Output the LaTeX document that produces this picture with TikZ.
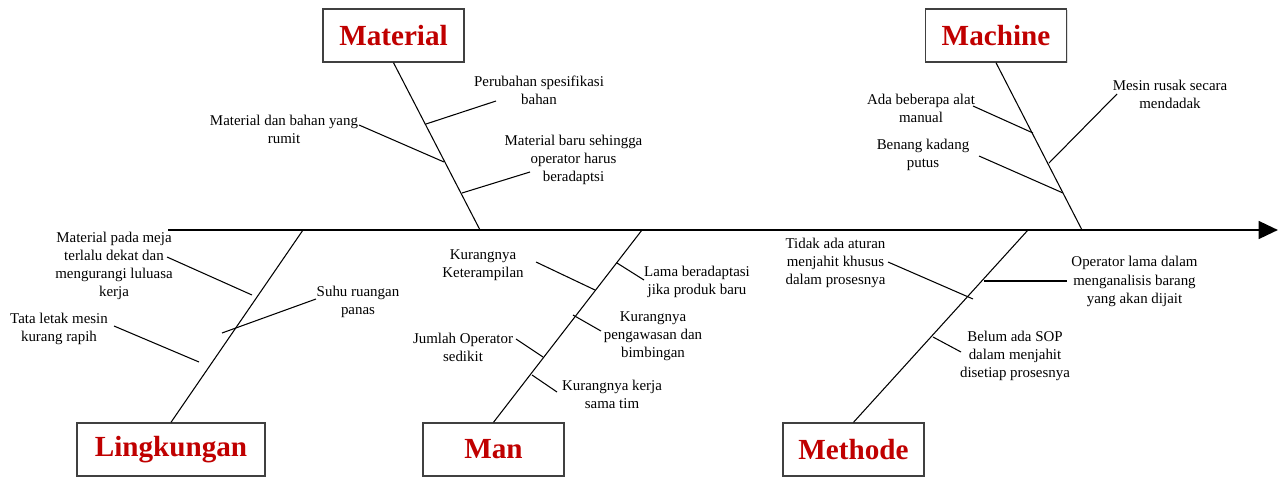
\documentclass[tikz,border=0pt]{standalone}
\usepackage{fontspec}
\setmainfont{Liberation Serif}
\usetikzlibrary{arrows.meta,shadows}
\definecolor{catred}{RGB}{192,0,0}

\begin{document}
\begin{tikzpicture}[x=0.02cm, y=-0.02cm,
    catbox/.style={draw=black!75, line width=0.8pt, fill=white, text=catred,
        font=\fontsize{16.6}{18}\selectfont\bfseries, minimum width=2.82cm,
        minimum height=1.06cm, inner sep=0pt,
        drop shadow={opacity=0.25, shadow xshift=0.6pt, shadow yshift=-0.6pt}},
    cause/.style={align=center, inner sep=0pt, font=\fontsize{8.5}{10.3}\selectfont},
    bone/.style={line width=0.6pt}]
    \useasboundingbox (0,0) rectangle (1282,477);
    % spine
    \coordinate (tail) at (168,230);
    \coordinate (head) at (1278,230);
    \draw[line width=1.6pt, -{Triangle[length=11pt,width=10pt]}] (tail) -- (head);
    % categories
    \node[catbox] (material) at (393.5,35.5) {Material};
    \node[catbox] (machine) at (996,35.5) {Machine};
    \node[catbox, minimum width=3.76cm] (lingkungan) at (171,449.5) {Lingkungan};
    \node[catbox] (man) at (493.5,449.5) {Man};
    \node[catbox] (methode) at (853.5,449.5) {Methode};
    \coordinate (matfoot) at (480,230);
    \coordinate (macfoot) at (1082,230);
    \coordinate (linfoot) at (303,230);
    \coordinate (manfoot) at (642,230);
    \coordinate (metfoot) at (1028,230);
    \draw[bone] (material.south) -- (matfoot);
    \draw[bone] (machine.south) -- (macfoot);
    \draw[bone] (lingkungan.north) -- (linfoot);
    \draw[bone] (man.north) -- (manfoot);
    \draw[bone] (methode.north) -- (metfoot);
    % Material
    \node[cause] (mat1) at (539,90) {Perubahan spesifikasi\\bahan};
    \node[cause] (mat2) at (284,129) {Material dan bahan yang\\rumit};
    \node[cause] (mat3) at (573.5,160) {Material baru sehingga\\operator harus\\beradaptsi};
    \coordinate (mat1a) at (496,101); \coordinate (mat1b) at (426,124);
    \coordinate (mat2a) at (359,125); \coordinate (mat2b) at (444,162);
    \coordinate (mat3a) at (530,172); \coordinate (mat3b) at (462,193);
    \draw[bone] (mat1b) -- (mat1a);
    \draw[bone] (mat2a) -- (mat2b);
    \draw[bone] (mat3b) -- (mat3a);
    % Machine
    \node[cause] (mac1) at (921,108.5) {Ada beberapa alat\\manual};
    \node[cause] (mac2) at (923,154.5) {Benang kadang\\putus};
    \node[cause] (mac3) at (1170,94.5) {Mesin rusak secara\\mendadak};
    \coordinate (mac1a) at (973,106); \coordinate (mac1b) at (1033,133);
    \coordinate (mac2a) at (979,156); \coordinate (mac2b) at (1063,193);
    \coordinate (mac3a) at (1117,94); \coordinate (mac3b) at (1049,163);
    \draw[bone] (mac1a) -- (mac1b);
    \draw[bone] (mac2a) -- (mac2b);
    \draw[bone] (mac3b) -- (mac3a);
    % Lingkungan
    \node[cause] (lin1) at (114,266) {Material pada meja\\terlalu dekat dan\\mengurangi luluasa\\kerja};
    \node[cause] (lin2) at (59,329) {Tata letak mesin\\kurang rapih};
    \node[cause] (lin3) at (358,302) {Suhu ruangan\\panas};
    \coordinate (lin1a) at (167,257); \coordinate (lin1b) at (252,295);
    \coordinate (lin2a) at (114,326); \coordinate (lin2b) at (199,362);
    \coordinate (lin3a) at (316,299); \coordinate (lin3b) at (222,333);
    \draw[bone] (lin1a) -- (lin1b);
    \draw[bone] (lin2a) -- (lin2b);
    \draw[bone] (lin3a) -- (lin3b);
    % Man
    \node[cause] (man1) at (483,265) {Kurangnya\\Keterampilan};
    \node[cause] (man2) at (697,282) {Lama beradaptasi\\jika produk baru};
    \node[cause] (man3) at (653,336) {Kurangnya\\pengawasan dan\\bimbingan};
    \node[cause] (man4) at (463,347) {Jumlah Operator\\sedikit};
    \node[cause] (man5) at (612,394) {Kurangnya kerja\\sama tim};
    \coordinate (man1a) at (536,262); \coordinate (man1b) at (595,290);
    \coordinate (man2a) at (644,280); \coordinate (man2b) at (617,263);
    \coordinate (man3a) at (601,331); \coordinate (man3b) at (573,315);
    \coordinate (man4a) at (516,339); \coordinate (man4b) at (543,357);
    \coordinate (man5a) at (557,392); \coordinate (man5b) at (532,375);
    \draw[bone] (man1a) -- (man1b);
    \draw[bone] (man2b) -- (man2a);
    \draw[bone] (man3b) -- (man3a);
    \draw[bone] (man4a) -- (man4b);
    \draw[bone] (man5b) -- (man5a);
    % Methode
    \node[cause] (met1) at (835.5,263) {Tidak ada aturan\\menjahit khusus\\dalam prosesnya};
    \node[cause] (met2) at (1134.5,281.5) {Operator lama dalam\\menganalisis barang\\yang akan dijait};
    \node[cause] (met3) at (1015,356) {Belum ada SOP\\dalam menjahit\\disetiap prosesnya};
    \coordinate (met1a) at (888,262); \coordinate (met1b) at (973,299);
    \coordinate (met2a) at (1067,281); \coordinate (met2b) at (984,281);
    \coordinate (met3a) at (961,352); \coordinate (met3b) at (933,337);
    \draw[bone] (met1a) -- (met1b);
    \draw[bone] (met2b) -- (met2a);
    \draw[bone] (met3b) -- (met3a);
\end{tikzpicture}
\end{document}
